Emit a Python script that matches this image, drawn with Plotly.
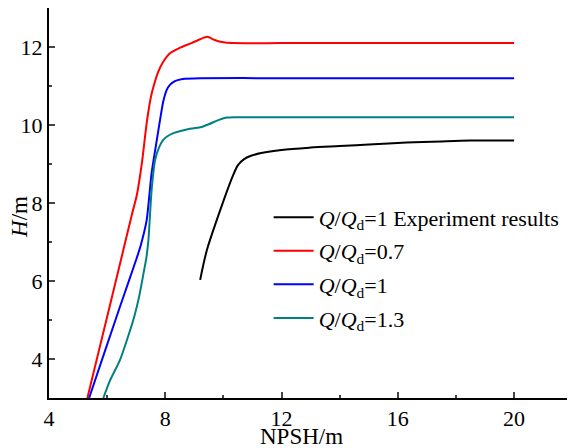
import plotly.graph_objects as go

# Data
exp_x = [9.2, 9.43, 9.77, 10.0, 10.3, 10.5, 10.7, 10.95, 11.3, 12.0, 13.0, 14.0, 15.0, 16.3, 17.5, 18.5, 20.0]
exp_y = [6.03, 6.79, 7.56, 8.05, 8.65, 8.97, 9.12, 9.21, 9.28, 9.36, 9.42, 9.46, 9.5, 9.55, 9.58, 9.6, 9.6]

q07_x = [5.32, 6.31, 6.85, 7.02, 7.2, 7.36, 7.5, 7.6, 7.75, 7.93, 8.16, 8.5, 8.9, 9.2, 9.45, 9.7, 10.0, 10.3, 12.0, 16.0, 20.0]
q07_y = [3.0, 6.03, 7.7, 8.2, 9.05, 10.05, 10.7, 11.0, 11.35, 11.62, 11.84, 11.98, 12.1, 12.2, 12.26, 12.18, 12.12, 12.1, 12.1, 12.1, 12.1]

q10_x = [5.38, 5.9, 6.4, 6.76, 7.0, 7.15, 7.36, 7.53, 7.71, 7.82, 7.93, 8.05, 8.16, 8.35, 8.6, 9.2, 12.0, 16.0, 20.0]
q10_y = [3.0, 4.15, 5.25, 6.03, 6.55, 6.9, 7.56, 8.77, 9.62, 10.13, 10.6, 10.9, 11.03, 11.13, 11.18, 11.2, 11.2, 11.2, 11.2]

q13_x = [5.87, 6.1, 6.44, 6.9, 7.1, 7.24, 7.35, 7.42, 7.53, 7.65, 7.8, 7.93, 8.05, 8.28, 8.7, 9.2, 9.5, 9.8, 10.11, 10.4, 12.0, 16.0, 20.0]
q13_y = [3.0, 3.45, 3.97, 5.0, 5.6, 6.15, 6.6, 7.05, 8.33, 9.1, 9.45, 9.62, 9.7, 9.79, 9.88, 9.94, 10.02, 10.12, 10.19, 10.2, 10.2, 10.2, 10.2]

x_ticks = [4, 8, 12, 16, 20]
y_ticks = [4, 6, 8, 10, 12]

FONT = "Liberation Serif"
FS = 22
names = [
    "<i>Q</i>/<i>Q</i><sub>d</sub>=1 Experiment results",
    "<i>Q</i>/<i>Q</i><sub>d</sub>=0.7",
    "<i>Q</i>/<i>Q</i><sub>d</sub>=1",
    "<i>Q</i>/<i>Q</i><sub>d</sub>=1.3",
]
series = [(exp_x, exp_y, "#000000", 0.9), (q07_x, q07_y, "#ff0000", 0.6),
          (q10_x, q10_y, "#0000ff", 0.6), (q13_x, q13_y, "#008080", 0.6)]

fig = go.Figure()
for i, ((xs, ys, c, sm), n) in enumerate(zip(series, names)):
    fig.add_trace(go.Scatter(x=xs, y=ys, mode="lines", name=n, legendgroup=f"g{i}",
                             line=dict(color=c, width=2, shape="spline", smoothing=sm)))

fig.update_layout(
    width=568, height=448,
    margin=dict(l=49, r=1, t=8, b=50),
    paper_bgcolor="white", plot_bgcolor="white",
    font=dict(family=FONT, size=FS, color="black"),
    showlegend=True,
    legend=dict(x=0.424, y=0.517, xanchor="left", yanchor="top", bgcolor="rgba(0,0,0,0)",
                font=dict(family=FONT, size=FS), itemwidth=40, tracegroupgap=2),
    xaxis=dict(range=[4, 21.82], tickvals=x_ticks, ticks="inside", ticklen=6, tickwidth=2,
               showline=True, linewidth=2, linecolor="black", showgrid=False, zeroline=False,
               minor=dict(ticks="inside", ticklen=3, tickwidth=2, dtick=2, tick0=0, showgrid=False),
               tickfont=dict(family=FONT, size=FS)),
    yaxis=dict(range=[3, 13], tickvals=y_ticks, ticks="inside", ticklen=6, tickwidth=2,
               showline=True, linewidth=2, linecolor="black", showgrid=False, zeroline=False,
               minor=dict(ticks="inside", ticklen=3, tickwidth=2, dtick=1, tick0=0, showgrid=False),
               tickfont=dict(family=FONT, size=FS)),
    annotations=[
        dict(text="NPSH/m", xref="paper", yref="paper", x=0.4865, y=0, yshift=-38,
             showarrow=False, xanchor="center", yanchor="middle", font=dict(family=FONT, size=23)),
        dict(text="<i>H</i>/m", xref="paper", yref="paper", x=-0.058, y=0.464, textangle=-90,
             showarrow=False, xanchor="center", yanchor="middle", font=dict(family=FONT, size=23)),
    ],
)

fig.write_html("out.html", config={"displayModeBar": False})
with open("out.html", "r", encoding="utf-8") as f:
    html = f.read()
html = html.replace("<body>", '<body style="margin:0;padding:0;">', 1)
with open("out.html", "w", encoding="utf-8") as f:
    f.write(html)
